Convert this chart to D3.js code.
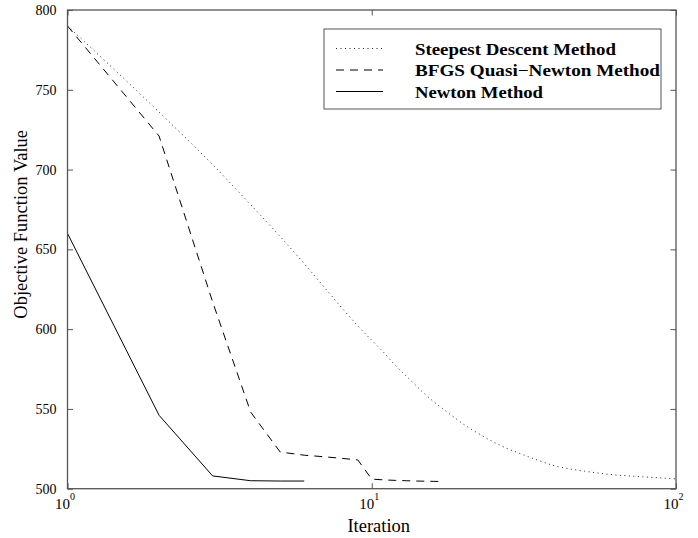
<!DOCTYPE html>
<html>
<head>
<meta charset="utf-8">
<script src="https://cdn.jsdelivr.net/npm/d3@7"></script>
<style>
  html, body { margin: 0; padding: 0; background: #fff; }
  svg { display: block; }
  text { font-family: "Liberation Serif", "Times New Roman", serif; fill: #000; }
</style>
</head>
<body>
<svg id="chart" width="698" height="538"></svg>
<script>
// ---- data ----
const seriesNames = ["Steepest Descent Method", "BFGS Quasi\u2212Newton Method", "Newton Method"];

const iterSD = [1,2,3,4,5,6,7,8,9,10,11,12,13,14,15,16,17,18,20,22,25,28,30,35,40,45,50,60,70,80,90,100];
const valSD  = [790,736,703,678,658,641,626,613,602,593,585,577,570.5,564.5,559,554.5,550.5,547,540.5,535.5,529.5,525,522.8,518,514.3,512.3,511,509,508,507.3,506.7,506.2];

const iterBFGS = [1,2,3,4,5,6,7,8,9,10,11,12,13,14,15,16,17];
const valBFGS  = [790,721,617,548,523,521,520,519,518,506,505.5,505.2,505,504.8,504.7,504.6,504.5];

const iterNewton = [1,2,3,4,5,6];
const valNewton  = [660,546,508,505,504.8,504.8];

const yTicks = [500,550,600,650,700,750,800];
const xTicks = [1,10,100];
const xTickExp = ["0","1","2"];

// ---- layout ----
const mLeft = 67.5, mRight = 676, mTop = 10, mBottom = 488.7;
const svg = d3.select("#chart");

const x = d3.scaleLog().domain([1,100]).range([mLeft,mRight]);
const y = d3.scaleLinear().domain([500,800]).range([mBottom,mTop]);

// plot lines
const lineSmooth = d3.line().x(d => x(d[0])).y(d => y(d[1])).curve(d3.curveMonotoneX);
const lineLinear = d3.line().x(d => x(d[0])).y(d => y(d[1]));
const zip = (a,b) => a.map((v,i) => [v,b[i]]);

const styles = [
  {dash: "1,3.5", stroke: "#222", width: 1},
  {dash: "8,6", stroke: "#000", width: 1},
  {dash: null, stroke: "#000", width: 1}
];
const data = [zip(iterSD,valSD), zip(iterBFGS,valBFGS), zip(iterNewton,valNewton)];
const gens = [lineSmooth, lineLinear, lineLinear];

const g = svg.append("g");
data.forEach((d,i) => {
  g.append("path")
    .attr("d", gens[i](d))
    .attr("fill","none")
    .attr("stroke", styles[i].stroke)
    .attr("stroke-width", styles[i].width)
    .attr("stroke-dasharray", styles[i].dash);
});

// frame
const frameColor = "#555";
svg.append("rect")
  .attr("x", mLeft).attr("y", mTop)
  .attr("width", mRight-mLeft).attr("height", mBottom-mTop)
  .attr("fill","none").attr("stroke", frameColor).attr("stroke-width", 1.3);

// y axis (left) with inward ticks, plus mirrored right ticks
const yAxisL = d3.axisLeft(y).tickValues(yTicks).tickSize(-5.5).tickPadding(11).tickFormat(d3.format("d"));
const gyl = svg.append("g").attr("transform", `translate(${mLeft},0)`).call(yAxisL);
gyl.select(".domain").remove();
gyl.selectAll(".tick line").attr("stroke", frameColor);
gyl.selectAll(".tick text").style("font-family", '"Liberation Serif", serif').style("font-size", "14px").attr("fill","#000");

const yAxisR = d3.axisRight(y).tickValues(yTicks).tickSize(-5.5).tickFormat("");
const gyr = svg.append("g").attr("transform", `translate(${mRight},0)`).call(yAxisR);
gyr.select(".domain").remove();
gyr.selectAll(".tick line").attr("stroke", frameColor);

// x axis bottom and top, inward ticks
const xAxisB = d3.axisBottom(x).tickValues(xTicks).tickSize(-5.5).tickFormat("");
const gxb = svg.append("g").attr("transform", `translate(0,${mBottom})`).call(xAxisB);
gxb.select(".domain").remove();
gxb.selectAll(".tick line").attr("stroke", frameColor);

const xAxisT = d3.axisTop(x).tickValues(xTicks).tickSize(-5.5).tickFormat("");
const gxt = svg.append("g").attr("transform", `translate(0,${mTop})`).call(xAxisT);
gxt.select(".domain").remove();
gxt.selectAll(".tick line").attr("stroke", frameColor);

// x tick labels as 10^k
xTicks.forEach((t,i) => {
  const tx = svg.append("text")
    .attr("x", x(t) - 2.5)
    .attr("y", mBottom + 20)
    .attr("text-anchor","middle")
    .style("font-size","15px");
  tx.append("tspan").text("10");
  tx.append("tspan").attr("dy", -9).style("font-size","10px").text(xTickExp[i]);
});

// axis titles
svg.append("text")
  .attr("x", (mLeft+mRight)/2 + 7)
  .attr("y", 532)
  .attr("text-anchor","middle")
  .style("font-size","18.5px")
  .text("Iteration");

svg.append("text")
  .attr("transform", `translate(27,${(mTop+mBottom)/2 - 25}) rotate(-90)`)
  .attr("text-anchor","middle")
  .style("font-size","18.5px")
  .text("Objective Function Value");

// legend
const lg = svg.append("g");
lg.append("rect")
  .attr("x", 324).attr("y", 29).attr("width", 337).attr("height", 80)
  .attr("fill","#fff").attr("stroke", frameColor).attr("stroke-width", 1);
const legRowY = [48.5, 70, 91.5];
const legWidths = [201, 245, 128];
seriesNames.forEach((name,i) => {
  lg.append("line")
    .attr("x1", 336).attr("x2", 383)
    .attr("y1", legRowY[i]).attr("y2", legRowY[i])
    .attr("stroke", styles[i].stroke)
    .attr("stroke-width", styles[i].width)
    .attr("stroke-dasharray", styles[i].dash);
  lg.append("text")
    .attr("x", 415)
    .attr("y", legRowY[i] + 6)
    .style("font-size","16.5px")
    .style("font-weight","bold")
    .attr("textLength", legWidths[i])
    .attr("lengthAdjust","spacingAndGlyphs")
    .text(name);
});
</script>
</body>
</html>
